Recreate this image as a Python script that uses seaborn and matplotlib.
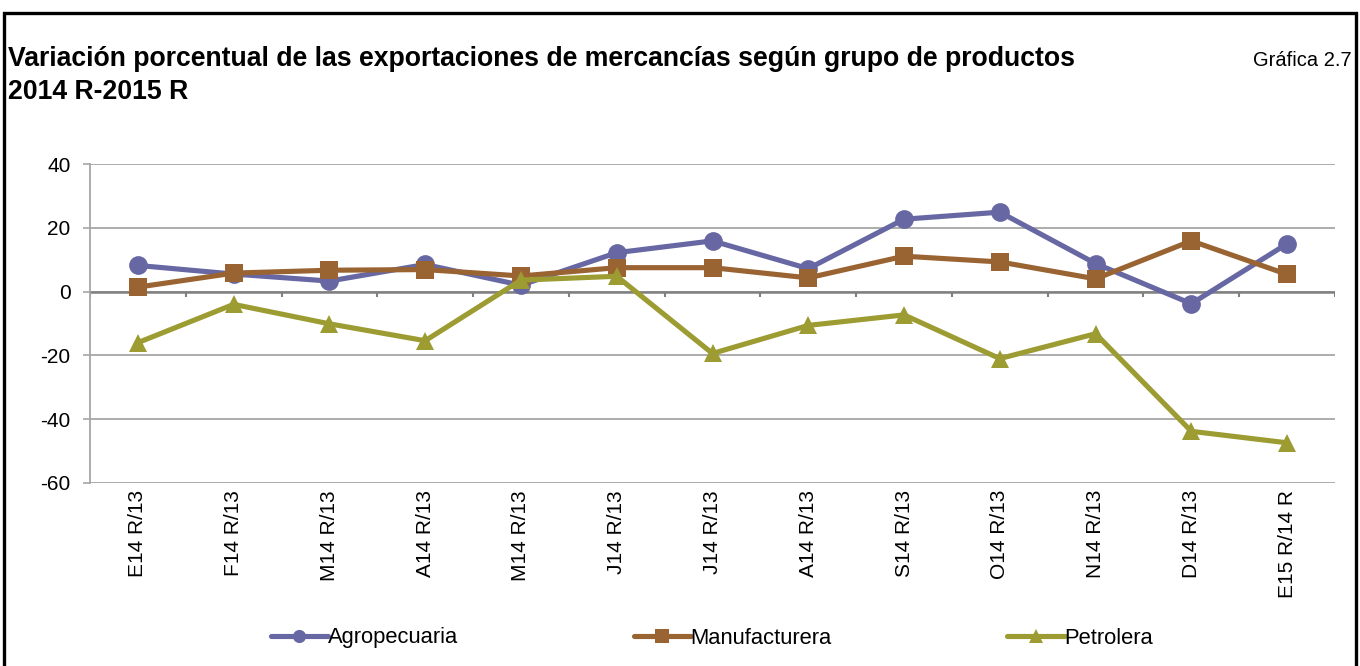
import numpy as np
import pandas as pd
import matplotlib
matplotlib.use("Agg")
import matplotlib.pyplot as plt
import seaborn as sns
from matplotlib.patches import Rectangle

labels = ['E14 R/13', 'F14 R/13', 'M14 R/13', 'A14 R/13', 'M14 R/13', 'J14 R/13',
          'J14 R/13', 'A14 R/13', 'S14 R/13', 'O14 R/13', 'N14 R/13', 'D14 R/13',
          'E15 R/14 R']
agro = [8.2, 5.5, 3.3, 8.5, 2.0, 12.2, 15.9, 7.2, 22.7, 24.9, 8.8, -3.8, 15.0]
manu = [1.4, 5.8, 6.7, 6.9, 4.9, 7.5, 7.5, 4.3, 11.1, 9.3, 4.0, 15.9, 5.4]
petro = [-16.0, -4.0, -10.1, -15.4, 3.6, 4.8, -19.4, -10.6, -7.3, -21.0, -13.2, -43.8, -47.4]
series = ['Agropecuaria', 'Manufacturera', 'Petrolera']
colors = ['#6767A3', '#9A6332', '#9C9C33']

pos = np.arange(len(labels))
df = pd.concat([
    pd.DataFrame({'pos': pos, 'valor': agro, 'grupo': series[0]}),
    pd.DataFrame({'pos': pos, 'valor': manu, 'grupo': series[1]}),
    pd.DataFrame({'pos': pos, 'valor': petro, 'grupo': series[2]}),
])

sns.set_style('white')
plt.rcParams['font.family'] = ['Liberation Sans', 'DejaVu Sans']
plt.rcParams['text.color'] = 'black'
plt.rcParams['xtick.color'] = 'black'
plt.rcParams['ytick.color'] = 'black'
plt.rcParams['axes.unicode_minus'] = False

fig = plt.figure(figsize=(13.6, 6.66), dpi=100)
ax = fig.add_axes([90/1360, 1-483/666, (1335-90)/1360, (483-164)/666])

sns.lineplot(data=df, x='pos', y='valor', hue='grupo', style='grupo',
             palette=colors, markers=['o', 's', '^'], dashes=False,
             linewidth=3.7, markersize=13.5, markeredgewidth=0, ax=ax, zorder=3)

ax.set_xlim(-0.5, len(labels) - 0.5)
ax.set_ylim(-60, 40)
ax.set_yticks(range(-60, 41, 20))
ax.set_xticks(pos)
ax.set_xticklabels(labels, rotation=90, fontsize=15)
ax.tick_params(axis='x', length=0, pad=5, labelcolor='black')
ax.tick_params(axis='y', labelsize=15, length=5, width=1.2, color='#A6A6A6',
               direction='out', pad=9, left=True, labelcolor='black')
ax.set_xlabel('')
ax.set_ylabel('')
ax.grid(axis='y', color='#A6A6A6', linewidth=1.3)
ax.set_axisbelow(True)
for s in ['top', 'right', 'bottom']:
    ax.spines[s].set_visible(False)
ax.spines['left'].set_color('#A6A6A6')
ax.spines['left'].set_linewidth(1.3)

# eje de categorias en cero, con marcas entre categorias
ax.axhline(0, color='#808080', linewidth=1.8, zorder=2)
ax.vlines(np.arange(len(labels) + 1) - 0.5, -1.7, 0, color='#808080',
          linewidth=1.5, zorder=2)

handles, lbls = ax.get_legend_handles_labels()
ax.get_legend().remove()
leg = fig.legend(handles, lbls, loc='center', bbox_to_anchor=(712/1360, 1-638/666),
                 ncol=3, frameon=False, fontsize=15.8, handlelength=2.6,
                 handletextpad=0.0, columnspacing=8.0, markerscale=0.7)
for t in leg.get_texts():
    t.set_color('black')

fig.text(8/1360, 1-66/666, 'Variación porcentual de las exportaciones de mercancías según grupo de productos',
         fontsize=19.2, fontweight='bold', va='baseline', ha='left', color='black')
fig.text(8/1360, 1-99/666, '2014 R-2015 R', fontsize=19.2, fontweight='bold',
         va='baseline', ha='left', color='black')
fig.text(1352/1360, 1-66/666, 'Gráfica 2.7', fontsize=14.5, va='baseline', ha='right',
         color='black')

fig.patches.append(Rectangle((4/1360, -0.05), (1356-4)/1360, 1.05-13/666,
                             transform=fig.transFigure, fill=False,
                             edgecolor='black', linewidth=2.4))

fig.savefig('out.png', dpi=100)
